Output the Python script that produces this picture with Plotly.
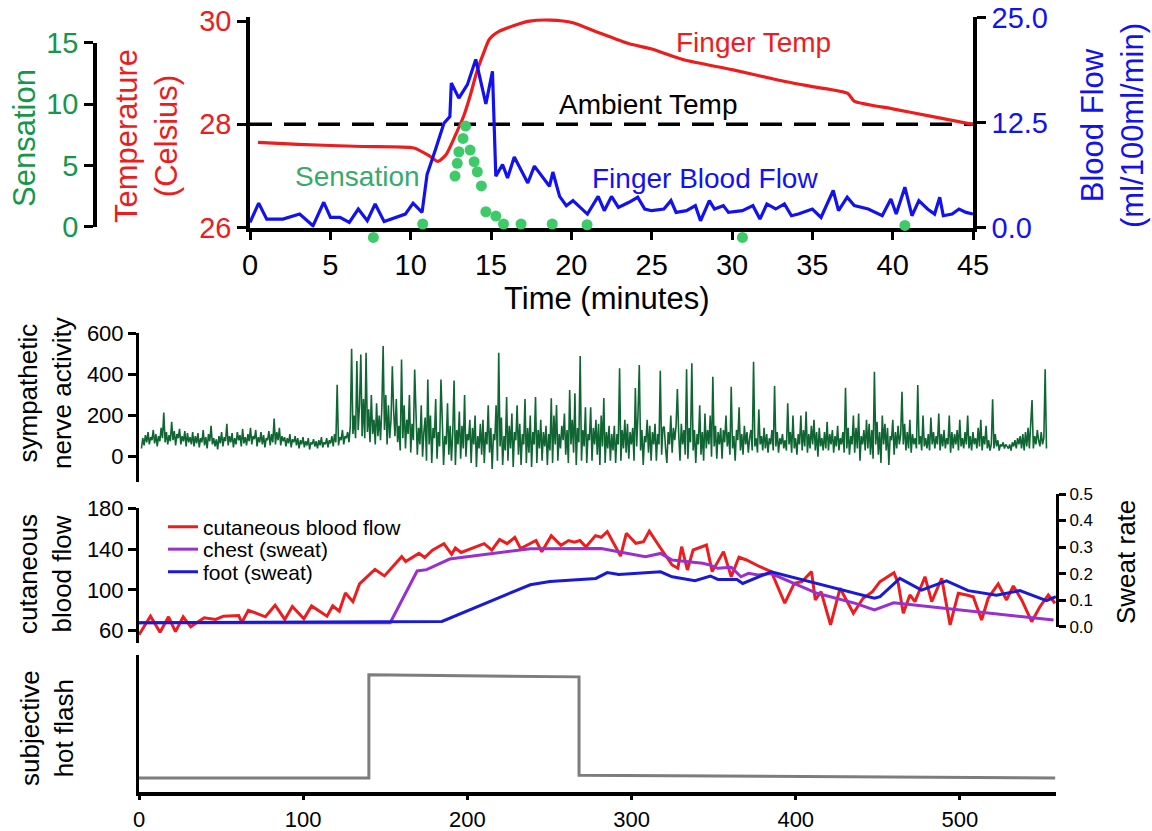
import numpy as np
import plotly.graph_objects as go

W, H = 1152, 831

# ---------------- TOP PANEL DATA ----------------
FT_T = [0.5, 3, 7, 10.2, 11.2, 11.7, 12.2, 12.8, 13.3, 13.7, 14.1, 14.5, 14.9, 15.5, 16.4, 17.4, 18.7, 20.1, 21.6,
        23.6, 25, 27, 30, 33, 35, 37.2, 37.6, 40, 42.5, 45]
FT_V = [27.65, 27.61, 27.57, 27.54, 27.38, 27.28, 27.41, 27.8, 28.16, 28.55, 29.0, 29.35, 29.65, 29.8, 29.91, 30.0,
        30.02, 29.97, 29.79, 29.56, 29.46, 29.25, 29.06, 28.85, 28.73, 28.6, 28.45, 28.3, 28.15, 28.0]

BF_T = [0, 0.54, 1.04, 2.05, 3.09, 3.92, 4.59, 5.01, 5.6, 6.18, 6.74, 7.3, 7.79, 8.35, 9.67, 10.15, 10.71, 11.02,
        11.55, 12.07, 12.44, 12.53, 13.0, 13.53, 14.05, 14.68, 15.09, 15.3, 15.72, 16.03, 16.45, 17.29, 17.7, 18.64,
        18.85, 19.27, 19.69, 20.1, 21.0, 21.67, 22.05, 22.5, 22.93, 23.59, 24.13, 24.57, 25.0, 25.76, 26.2, 26.52,
        27.17, 27.72, 28.04, 28.59, 28.91, 29.46, 29.78, 30.65, 31.3, 31.74, 32.17, 32.72, 33.26, 33.7, 34.13, 35.0,
        35.54, 36.3, 36.63, 37.17, 37.61, 38.48, 39.35, 39.89, 40.22, 40.76, 41.2, 41.63, 42.17, 42.61, 42.93, 43.15,
        43.7, 44.13, 44.57, 45.0]
BF_V = [0.6, 2.9, 1.0, 1.0, 1.6, 0.2, 3.0, 1.2, 1.2, 0.6, 2.2, 0.8, 2.8, 0.7, 1.6, 2.9, 1.8, 6.3, 9.3, 12.4,
        13.2, 17.2, 15.4, 17.0, 20.0, 14.7, 18.6, 6.1, 7.5, 5.9, 8.4, 5.3, 7.3, 4.9, 6.6, 3.7, 2.6, 3.2, 1.6, 3.7,
        2.0, 3.7, 2.4, 3.0, 3.6, 2.2, 2.0, 2.2, 3.2, 1.8, 2.0, 2.6, 0.8, 3.2, 2.2, 2.6, 1.8, 2.0, 2.6, 1.0,
        2.8, 2.2, 2.8, 1.4, 1.6, 2.2, 1.2, 4.4, 2.0, 3.6, 2.6, 2.2, 1.4, 3.4, 1.6, 4.8, 1.4, 3.2, 2.2, 1.6,
        3.6, 1.4, 1.6, 2.2, 1.8, 1.6]

SEN_T = [7.68, 10.75, 12.76, 12.9, 13.0, 13.26, 13.42, 13.7, 13.95, 14.15, 14.4, 14.68, 15.3, 15.78, 16.87, 18.81,
         20.98, 30.65, 40.76]
SEN_V = [-0.87, 0.22, 4.13, 5.17, 6.11, 7.2, 8.2, 6.25, 5.3, 4.48, 3.32, 1.22, 0.87, 0.22, 0.22, 0.22, 0.16,
         -0.87, 0.1]

AMBIENT_T = [0, 45]
AMBIENT_V = [28, 28]

TOP_XTICKS = [0, 5, 10, 15, 20, 25, 30, 35, 40, 45]

# ---------------- SYMPATHETIC NERVE ACTIVITY ----------------
# readings every 0.8 s, in 16-s blocks; each block starts at SNA_START + 16*k
SNA_START, SNA_DT, SNA_BLOCK = 1.5, 0.8, 16.0
SNA_BLOCKS = [
    [40, 90, 55, 105, 70, 120, 60, 95, 80, 130, 65, 110, 50, 100, 75, 140, 90, 215, 70, 120],
    [60, 105, 75, 170, 80, 125, 55, 110, 90, 135, 60, 100, 75, 125, 50, 115, 70, 95, 60, 120],
    [50, 100, 65, 115, 45, 90, 70, 130, 55, 95, 40, 110, 75, 150, 60, 90, 50, 85, 35, 100],
    [65, 120, 50, 95, 75, 160, 55, 100, 70, 115, 45, 90, 60, 120, 80, 105, 50, 135, 65, 95],
    [55, 110, 75, 140, 60, 100, 85, 130, 50, 95, 70, 120, 60, 105, 45, 90, 80, 125, 55, 110],
    [70, 185, 60, 120, 80, 140, 55, 100, 75, 95, 50, 90, 65, 110, 45, 85, 70, 100, 55, 90],
    [40, 80, 60, 95, 45, 75, 55, 90, 35, 70, 60, 85, 50, 75, 40, 80, 55, 95, 45, 70],
    [60, 90, 45, 80, 65, 100, 50, 110, 70, 350, 55, 95, 80, 130, 60, 100, 90, 120, 70, 150],
    [525, 110, 200, 90, 465, 130, 250, 497, 100, 280, 90, 505, 120, 230, 70, 300, 110, 180, 60, 260],
    [100, 200, 80, 240, 538, 130, 300, 60, 250, 90, 180, 440, 220, 100, 280, 70, 150, 30, 473, 90],
    [250, 40, 180, 110, 300, 20, 160, 80, 424, 210, 10, 140, 60, 250, 0, 120, 190, -20, 375, 60],
    [200, -30, 140, 90, 280, -10, 120, 50, 375, 180, -40, 100, 60, 260, 10, 150, -20, 120, 370, -40],
    [130, 60, 220, -10, 150, 40, 300, 0, 110, 80, 180, -30, 140, 60, 200, -50, 100, 40, 160, 10],
    [180, -30, 120, 60, 250, 20, 140, -60, 110, 80, 250, -20, 505, 50, 190, -40, 100, 30, 290, -20],
    [150, 40, 210, -50, 120, 80, 250, 10, 160, -40, 110, 60, 280, -30, 140, 20, 200, -50, 120, 60],
    [290, -30, 130, 40, 180, -20, 120, 50, 150, -40, 110, 30, 284, -30, 200, 60, 251, -20, 110, 40],
    [150, 80, 210, 10, 130, -30, 324, 60, 180, 20, 308, -40, 140, 70, 490, -20, 130, 50, 240, -30],
    [110, 80, 240, -20, 140, 60, 180, 10, 160, -40, 200, 50, 285, -30, 120, 40, 150, -20, 110, 30],
    [150, -30, 110, 60, 430, -20, 130, 40, 180, 20, 160, -10, 120, 60, 140, -20, 334, 50, 200, 446],
    [30, 130, -40, 100, 70, 180, 20, 150, -20, 120, 60, 160, -20, 110, 60, 418, 10, 140, 146, 40],
    [-30, 120, 60, 200, 20, 140, 80, 150, 329, 110, -20, 160, 60, 130, 10, 425, -10, 140, 70, 454],
    [30, 130, -30, 110, 60, 250, 10, 120, -20, 210, 40, 130, 60, 200, 0, 389, 50, 150, -10, 120],
    [60, 140, -10, 130, 70, 200, 50, 120, 10, 340, 40, 100, -20, 130, 80, 240, 30, 110, 10, 150],
    [60, 120, 20, 90, 130, 30, 462, 50, 90, 20, 230, 60, 100, 30, 140, 40, 110, 20, 90, 60],
    [130, 30, 344, 50, 120, 20, 90, 60, 110, 40, 80, 30, 260, 60, 120, 20, 200, 40, 90, 10],
    [110, 60, 200, 30, 130, 50, 220, 20, 110, 40, 150, 60, 180, 30, 120, 0, 140, 50, 90, 30],
    [120, 40, 170, 30, 110, 60, 130, 20, 100, 50, 150, 30, 90, 60, 120, 20, 335, 40, 140, 10],
    [100, 60, 200, 20, 140, 40, 210, -20, 100, 60, 130, 30, 180, 40, 160, 10, 130, -10, 413, 60],
    [170, 10, 120, -30, 200, 60, 160, 30, 140, -40, 100, 80, 180, 10, 120, 40, 150, 60, 110, 316],
    [60, 160, 30, 120, 40, 180, 20, 110, 60, 90, 40, 349, 60, 100, 30, 200, 50, 90, 40, 110],
    [30, 190, 60, 120, 40, 100, 60, 210, 30, 110, 50, 130, 40, 90, 60, 200, 20, 120, 40, 110],
    [60, 130, 30, 180, 50, 90, 40, 120, 60, 200, 40, 100, 30, 120, 60, 90, 40, 140, 50, 180],
    [30, 100, 60, 150, 40, 80, 30, 60, 279, 40, 110, 50, 80, 30, 60, 50, 70, 40, 60, 50],
    [40, 60, 30, 70, 50, 80, 40, 90, 60, 100, 40, 110, 30, 120, 50, 140, 40, 160, 276, 40],
    [100, 60, 130, 80, 50, 120, 60, 90, 425, 40],
]
SNA_T, SNA_V = [], []
for k, blk in enumerate(SNA_BLOCKS):
    for j, v in enumerate(blk):
        SNA_T.append(SNA_START + SNA_BLOCK * k + SNA_DT * j)
        SNA_V.append(v)

# ---------------- CUTANEOUS / SWEAT ----------------
CBF_T = [0, 7, 12.8, 18, 22.2, 26.9, 31.5, 39.7, 46.7, 51.4, 60.7, 62.6, 66.6, 77, 82.9, 88.8, 93.4, 100.4, 105.1,
         114.5, 118, 122, 125.7, 130.3, 134.3, 143.7, 149.5, 160, 162.4, 170.5, 174, 178.7, 185.7, 190.4, 192.7,
         196.2, 210.2, 214.9, 219.6, 224.2, 228.9, 232.4, 241.8, 245.3, 251.1, 257, 261.6, 265.1, 268.6, 272.2,
         278, 281.5, 285.2, 293.3, 296.8, 302.6, 307.3, 310.8, 317.7, 324.7, 328.2, 330.5, 334, 337.5, 345.6,
         349.1, 356, 360.7, 365.4, 370, 378.2, 385.1, 393.3, 399.1, 403.7, 409.6, 411.9, 415.4, 421.2, 427,
         435.1, 441, 446.7, 451.3, 459.8, 462.4, 465.5, 469.5, 472.6, 478.7, 482.8, 488.9, 494, 499, 504.1,
         508.1, 513.2, 517.2, 523.3, 528.4, 532.5, 537.6, 543.7, 548.7, 553.8, 557.9]
CBF_V = [56, 74.2, 58.4, 73.6, 59, 73.6, 63.8, 72.6, 71, 74.2, 74.8, 68, 80, 73.6, 85, 71, 83.7, 71.7, 84.3,
         74.2, 84.3, 79, 97, 88.4, 105.8, 120, 113.7, 132.6, 127.9, 135.8, 131.7, 139, 145.3, 134.8, 141,
         136.7, 145.3, 139, 149.4, 145.3, 151.6, 140.5, 148.4, 137.4, 153.2, 143.7, 148.4, 146.8, 148.4, 142,
         153.2, 151.6, 157.1, 133.2, 155.5, 145.7, 147.3, 157.6, 140.8, 124.4, 121.2, 142.4, 119.5, 139.1, 144,
         117.9, 137.5, 112.9, 132, 129.3, 122.7, 117.9, 86.9, 106.5, 108, 117.9, 90.1, 98.2, 65.6, 101.6,
         77.1, 91.8, 98.2, 108, 116.9, 106.5, 77.1, 95, 88.4, 112.9, 88.4, 111.4, 65.6, 96.7, 95,
         93.3, 70.5, 91.8, 105.8, 90.1, 103.8, 90.1, 68.8, 83.5, 95, 86.9]

CH_T = [0, 153, 169.4, 175.2, 189.2, 238.3, 281.5, 292.2, 308.4, 317.7, 324.7, 343.3, 348, 352.6, 360.7, 366.6,
        371.2, 377, 385, 413, 436.3, 447.9, 459.6, 557]
CH_V = [0.015, 0.015, 0.21, 0.215, 0.255, 0.294, 0.295, 0.283, 0.264, 0.276, 0.251, 0.239, 0.232, 0.22, 0.224,
        0.188, 0.201, 0.195, 0.2, 0.126, 0.088, 0.063, 0.09, 0.025]

FO_T = [0, 184.5, 238.3, 250.3, 278.2, 285.2, 292.2, 317.7, 324.7, 338.6, 348, 352.6, 364.2, 367.7, 385.1, 447.9,
        451.3, 463.4, 476.6, 491.8, 505, 522.3, 536.5, 552.7, 558.4]
FO_V = [0.015, 0.02, 0.158, 0.17, 0.182, 0.204, 0.197, 0.207, 0.188, 0.173, 0.191, 0.178, 0.178, 0.163, 0.207,
        0.107, 0.113, 0.182, 0.138, 0.173, 0.136, 0.119, 0.136, 0.098, 0.113]

# ---------------- HOT FLASH ----------------
HF_T = [0, 140, 140, 268, 268, 558]
HF_V = [0.10, 0.10, 0.855, 0.84, 0.12, 0.10]

LOW_XTICKS = [0, 100, 200, 300, 400, 500]

# ---------------- STYLE ----------------
FONT = "Liberation Sans, Arial, sans-serif"
NARROW = "Liberation Sans Narrow, Arial Narrow, Liberation Sans, sans-serif"
RED = "#ee1c1c"
BLUE = "#1212f0"
GREEN_AX = "#14974a"
GREEN_DOT = "#3fca6a"
GREEN_LBL = "#3aa96c"
SNA_GREEN = "#0f6633"
PURPLE = "#9a2fd0"
BLUE2 = "#1a1ad6"
GRAY = "#7d7d7d"


def px(x):
    return x / W


def py(y):
    return 1 - y / H


fig = go.Figure()

# top panel
fig.add_trace(go.Scatter(x=AMBIENT_T, y=AMBIENT_V, mode="lines", xaxis="x", yaxis="y",
                         line=dict(color="black", width=3.5, dash="22px,12px"), showlegend=False))
fig.add_trace(go.Scatter(x=FT_T, y=FT_V, mode="lines", xaxis="x", yaxis="y",
                         line=dict(color=RED, width=3.2, shape="spline", smoothing=0.6), showlegend=False))
fig.add_trace(go.Scatter(x=BF_T, y=BF_V, mode="lines", xaxis="x", yaxis="y2",
                         line=dict(color=BLUE, width=3.2), showlegend=False))
fig.add_trace(go.Scatter(x=SEN_T, y=SEN_V, mode="markers", xaxis="x", yaxis="y7", cliponaxis=False,
                         marker=dict(color=GREEN_DOT, size=11), showlegend=False))
# empty trace so the displayed sensation axis renders
fig.add_trace(go.Scatter(x=[None], y=[None], mode="markers", xaxis="x", yaxis="y8", showlegend=False))

# SNA panel
fig.add_trace(go.Scatter(x=SNA_T, y=SNA_V, mode="lines", xaxis="x2", yaxis="y3",
                         line=dict(color=SNA_GREEN, width=1.6), showlegend=False))

# cutaneous panel (each entry in its own legend so the rows can sit close together)
fig.add_trace(go.Scatter(x=CBF_T, y=CBF_V, mode="lines", xaxis="x2", yaxis="y4", name="cutaneous blood flow",
                         line=dict(color=RED, width=3), legend="legend"))
fig.add_trace(go.Scatter(x=CH_T, y=CH_V, mode="lines", xaxis="x2", yaxis="y5", name="chest (sweat)",
                         line=dict(color=PURPLE, width=3), legend="legend2"))
fig.add_trace(go.Scatter(x=FO_T, y=FO_V, mode="lines", xaxis="x2", yaxis="y5", name="foot (sweat)",
                         line=dict(color=BLUE2, width=3), legend="legend3"))

# hot flash
fig.add_trace(go.Scatter(x=HF_T, y=HF_V, mode="lines", xaxis="x2", yaxis="y6",
                         line=dict(color=GRAY, width=3), showlegend=False))

axcommon = dict(showgrid=False, zeroline=False, showline=True, linecolor="black", ticks="outside",
                tickcolor="black", automargin=False)

SEN_PX = 12.27  # pixel per sensation unit (used only to align the hidden data axis)

legcommon = dict(xanchor="left", yanchor="middle", bgcolor="rgba(0,0,0,0)",
                 font=dict(size=21, color="black"), itemwidth=30)

fig.update_layout(
    width=W, height=H, margin=dict(l=0, r=0, t=0, b=0, autoexpand=False),
    paper_bgcolor="white", plot_bgcolor="rgba(0,0,0,0)",
    font=dict(family=FONT, color="black"),
    xaxis=dict(domain=[px(250), px(973)], range=[0, 45], anchor="y", tickvals=TOP_XTICKS,
               linewidth=3.5, ticklen=9, tickwidth=3, tickfont=dict(size=29, color="black"), **axcommon),
    yaxis=dict(domain=[py(227.5), py(17)], range=[26, 30.08], anchor="x", tickvals=[26, 28, 30],
               linewidth=3.5, ticklen=9, tickwidth=3, tickfont=dict(size=29, color=RED), **axcommon),
    yaxis2=dict(overlaying="y", side="right", anchor="x", range=[0, 25.05], tickvals=[0, 12.5, 25],
                ticktext=["0.0", "12.5", "25.0"], linewidth=3.5, ticklen=9, tickwidth=3,
                tickfont=dict(size=29, color=BLUE), **axcommon),
    yaxis7=dict(domain=[py(226.7 + 1.5 * SEN_PX), py(42.7)], range=[-1.5, 15], anchor="free",
                position=px(95), visible=False, automargin=False),
    yaxis8=dict(domain=[py(226.7), py(42.7)], range=[0, 15], anchor="free", position=px(95), side="left",
                tickvals=[0, 5, 10, 15], linewidth=3.5, ticklen=9, tickwidth=3,
                tickfont=dict(size=29, color=GREEN_AX), **axcommon),
    xaxis2=dict(domain=[px(139), px(1056)], range=[0, 558.5], anchor="y6", tickvals=LOW_XTICKS,
                linewidth=3.5, ticklen=5, tickwidth=2.5, tickfont=dict(size=22, color="black", family=NARROW),
                **axcommon),
    yaxis3=dict(domain=[py(481.7), py(333.3)], range=[-121.5, 600], anchor="x2", tickvals=[0, 200, 400, 600],
                linewidth=3, ticklen=8, tickwidth=2.5, tickfont=dict(size=22, color="black"), **axcommon),
    yaxis4=dict(domain=[py(643.3), py(508.3)], range=[47.6, 180], anchor="x2", tickvals=[60, 100, 140, 180],
                linewidth=3, ticklen=8, tickwidth=2.5, tickfont=dict(size=22, color="black"), **axcommon),
    yaxis5=dict(domain=[py(626.7), py(494)], range=[0, 0.5], anchor="x2", side="right",
                tickvals=[0, 0.1, 0.2, 0.3, 0.4, 0.5], ticktext=["0.0", "0.1", "0.2", "0.3", "0.4", "0.5"],
                linewidth=3, ticklen=7, tickwidth=2.5, tickfont=dict(size=17, color="black"), **axcommon),
    yaxis6=dict(domain=[py(791.7), py(655)], range=[0, 1], anchor="x2", showticklabels=False,
                showgrid=False, zeroline=False, showline=True, linecolor="black", linewidth=3, ticks="",
                automargin=False),
    legend=dict(x=px(163), y=py(527), **legcommon),
    legend2=dict(x=px(163), y=py(549.5), **legcommon),
    legend3=dict(x=px(163), y=py(572), **legcommon),
)

ann = []


def label(text, x, y, size, color, angle=0):
    ann.append(dict(text=text, x=px(x), y=py(y), xref="paper", yref="paper", showarrow=False,
                    xanchor="center", yanchor="middle", textangle=angle,
                    font=dict(size=size, color=color, family=FONT)))


label("Sensation", 24, 138, 31, GREEN_AX, -90)
label("Temperature<br>(Celsius)", 147, 136, 31, RED, -90)
label("Blood Flow<br>(ml/100ml/min)", 1113, 126, 31, BLUE, -90)
label("Time (minutes)", 607, 298, 31, "black")
label("Finger Temp", 753, 42, 28, RED)
label("Ambient Temp", 648, 104, 28, "black")
label("Sensation", 357, 176, 28, GREEN_LBL)
label("Finger Blood Flow", 705, 178, 28, BLUE)
label("sympathetic<br>nerve activity", 45, 393, 26, "black", -90)
label("cutaneous<br>blood flow", 45, 574, 26, "black", -90)
label("Sweat rate", 1126, 562, 26, "black", -90)
label("subjective<br>hot flash", 47, 728, 26, "black", -90)

fig.update_layout(annotations=ann)

fig.write_html("out.html")
